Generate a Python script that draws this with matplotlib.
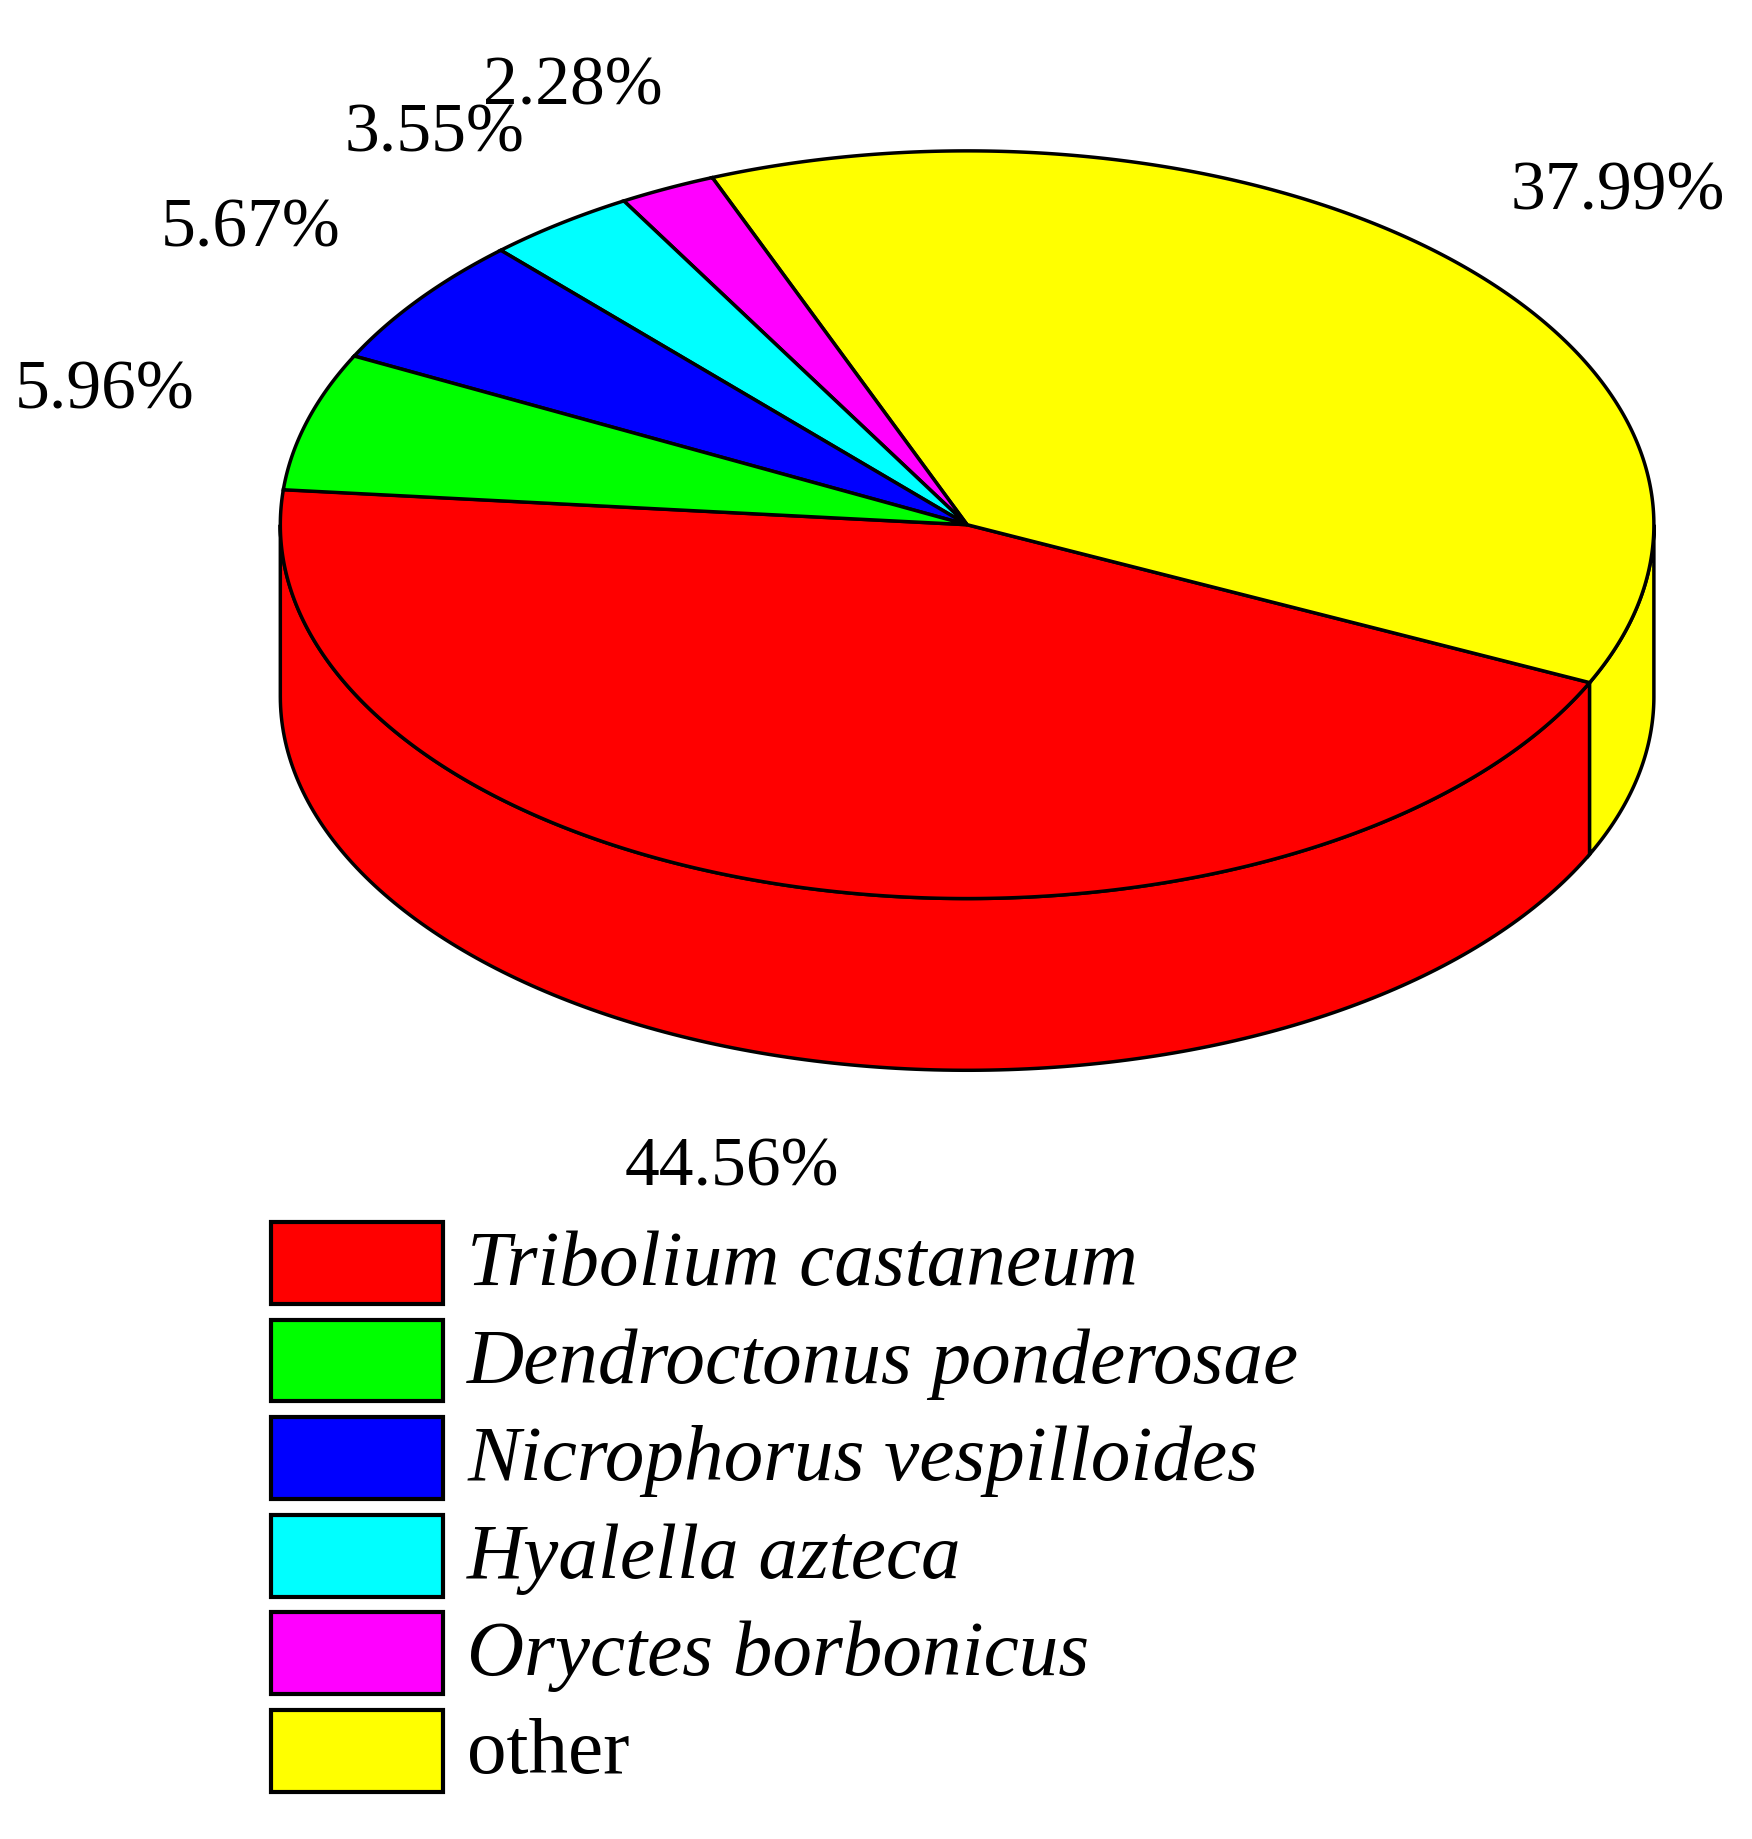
import numpy as np
import matplotlib
matplotlib.use("Agg")
import matplotlib.pyplot as plt
from matplotlib.patches import Polygon, Rectangle

species = ["Tribolium castaneum", "Dendroctonus ponderosae", "Nicrophorus vespilloides",
           "Hyalella azteca", "Oryctes borbonicus", "other"]
italic = [True, True, True, True, True, False]
shares = [44.56, 5.96, 5.67, 3.55, 2.28, 37.99]
colors = ["#ff0000", "#00ff00", "#0000ff", "#00ffff", "#ff00ff", "#ffff00"]
# drawing order around the pie (from the left edge, down through the front)
order = [0, 5, 4, 3, 2, 1]
label_pos = {0: (627, 1000), 5: (1385, 165), 1: (90, 335), 2: (215, 197), 3: (372, 115), 4: (490, 75)}

W, H = 1500, 1575
cx, cy, rx, ry, depth = 828, 450, 588, 320, 147
start = 174.6

fig = plt.figure(figsize=(17.52, 18.40), dpi=100)
ax = fig.add_axes([0, 0, 1, 1])
ax.set_xlim(0, W)
ax.set_ylim(H, 0)
ax.axis("off")


def pt(t, dy=0.0):
    r = np.radians(t)
    return cx + rx * np.cos(r), cy - ry * np.sin(r) + dy


ranges = {}
a = start
for i in order:
    span = shares[i] / 100 * 360
    ranges[i] = (a, a + span)
    a += span

# side walls: visible where angle in [180, 360] (mod 360)
for i in order:
    lo, hi = ranges[i]
    for off in (0, 360, -360):
        s, e = max(lo + off, 180), min(hi + off, 360)
        if e > s:
            ts = np.linspace(s, e, 200)
            top = [pt(t) for t in ts]
            bot = [pt(t, depth) for t in ts[::-1]]
            ax.add_patch(Polygon(top + bot, closed=True, facecolor=colors[i],
                                 edgecolor="black", linewidth=2.5, zorder=1))

# top faces
for i in order:
    lo, hi = ranges[i]
    ts = np.linspace(lo, hi, 300)
    poly = [(cx, cy)] + [pt(t) for t in ts]
    ax.add_patch(Polygon(poly, closed=True, facecolor=colors[i],
                         edgecolor="black", linewidth=2.5, zorder=2))

for i, (x, y) in label_pos.items():
    ax.text(x, y, f"{shares[i]:.2f}%", ha="center", va="center",
            fontsize=50, family="Liberation Serif", zorder=3)

# legend
for k in range(len(species)):
    y0 = 1047 + k * 83.5
    ax.add_patch(Rectangle((232, y0), 147, 70, facecolor=colors[k],
                           edgecolor="black", linewidth=3))
    ax.text(400, y0 + 37, species[k], ha="left", va="center", fontsize=57,
            family="Liberation Serif", style="italic" if italic[k] else "normal")

fig.savefig("out.png", dpi=100)
